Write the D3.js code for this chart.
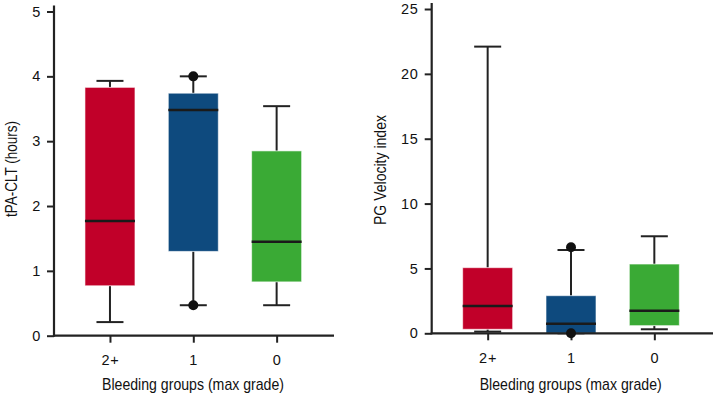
<!DOCTYPE html>
<html>
<head>
<meta charset="utf-8">
<script src="https://cdn.jsdelivr.net/npm/d3@7"></script>
<style>
  body { margin: 0; background: #fff; }
  svg { display: block; }
</style>
</head>
<body>
<div id="chart"></div>
<script>
// groups and colours
const groups = ["2+", "1", "0"];
const groupColors = ["#c10029", "#0e4a7e", "#3aaa35"];

// tPA-CLT (hours) box stats, per group
const cltLow = [0.21, 0.47, 0.47];
const cltQ1 = [0.77, 1.30, 0.83];
const cltMedian = [1.77, 3.48, 1.45];
const cltQ3 = [3.83, 3.74, 2.85];
const cltHigh = [3.93, 4.0, 3.54];
const cltOutliers = [[], [4.0, 0.47], []];
const cltTicks = [0, 1, 2, 3, 4, 5];

// PG Velocity index box stats, per group
const pgvLow = [0.13, 0, 0.31];
const pgvQ1 = [0.31, 0, 0.59];
const pgvMedian = [2.1, 0.74, 1.74];
const pgvQ3 = [5.06, 2.9, 5.34];
const pgvHigh = [22.1, 6.42, 7.48];
const pgvOutliers = [[], [6.63, 0], []];
const pgvTicks = [0, 5, 10, 15, 20, 25];

const tickFont = "'Liberation Sans', Arial, sans-serif";
const titleFont = "'Liberation Sans', Arial, sans-serif";

const svg = d3.select("#chart").append("svg")
  .attr("width", 713)
  .attr("height", 398);

function drawPanel(opt) {
  const g = svg.append("g");

  const y = d3.scaleLinear().domain([0, opt.ticks[opt.ticks.length - 1]]).range([opt.bottom, opt.top]);
  const x = d3.scalePoint().domain(groups).range([opt.left + 14.3, opt.left + 264.3]).padding(0.5);

  const rows = groups.map((grp, i) => ({
    grp, i,
    low: opt.low[i], q1: opt.q1[i], med: opt.median[i], q3: opt.q3[i], high: opt.high[i],
    outliers: opt.outliers[i]
  }));
  const boxW = 50, capW = 27;

  const box = g.selectAll("g.box").data(rows).join("g").attr("class", "box");

  // whiskers + caps
  box.append("line")
    .attr("x1", d => x(d.grp)).attr("x2", d => x(d.grp))
    .attr("y1", d => y(d.high)).attr("y2", d => y(d.q3))
    .attr("stroke", "#222").attr("stroke-width", 2);
  box.append("line")
    .attr("x1", d => x(d.grp)).attr("x2", d => x(d.grp))
    .attr("y1", d => y(d.q1)).attr("y2", d => y(d.low))
    .attr("stroke", "#222").attr("stroke-width", 2);
  box.append("line")
    .attr("x1", d => x(d.grp) - capW / 2).attr("x2", d => x(d.grp) + capW / 2)
    .attr("y1", d => y(d.high)).attr("y2", d => y(d.high))
    .attr("stroke", "#222").attr("stroke-width", 2);
  box.append("line")
    .attr("x1", d => x(d.grp) - capW / 2).attr("x2", d => x(d.grp) + capW / 2)
    .attr("y1", d => y(d.low)).attr("y2", d => y(d.low))
    .attr("stroke", "#222").attr("stroke-width", 2);

  // boxes
  box.append("rect")
    .attr("x", d => x(d.grp) - boxW / 2)
    .attr("width", boxW)
    .attr("y", d => y(d.q3))
    .attr("height", d => y(d.q1) - y(d.q3))
    .attr("fill", d => groupColors[d.i])
    .attr("stroke", "#fff").attr("stroke-opacity", 0.6).attr("stroke-width", 1);

  // medians
  box.append("line")
    .attr("x1", d => x(d.grp) - boxW / 2).attr("x2", d => x(d.grp) + boxW / 2)
    .attr("y1", d => y(d.med)).attr("y2", d => y(d.med))
    .attr("stroke", "#1a1a1a").attr("stroke-width", 2.5);

  // axes
  const yAxis = d3.axisLeft(y).tickValues(opt.ticks).tickFormat(d3.format("d"))
    .tickSize(7).tickPadding(6).tickSizeOuter(0);
  const ya = g.append("g").attr("transform", `translate(${opt.left},0)`).call(yAxis);
  ya.select(".domain").remove();
  ya.selectAll(".tick line").attr("stroke", "#222").attr("stroke-width", 2);

  const xAxis = d3.axisBottom(x).tickSize(7).tickPadding(12).tickSizeOuter(0);
  const xa = g.append("g").attr("transform", `translate(0,${opt.bottom})`).call(xAxis);
  xa.select(".domain").remove();
  xa.selectAll(".tick line").attr("stroke", "#222").attr("stroke-width", 2);

  g.selectAll(".tick text")
    .style("font-family", tickFont)
    .style("font-size", "14.5px")
    .style("letter-spacing", "0.8px")
    .attr("fill", "#111");

  g.append("line")
    .attr("x1", opt.left).attr("x2", opt.left)
    .attr("y1", opt.top - 6).attr("y2", opt.bottom + 1)
    .attr("stroke", "#222").attr("stroke-width", 2.2);
  g.append("line")
    .attr("x1", opt.left - 1).attr("x2", opt.right)
    .attr("y1", opt.bottom).attr("y2", opt.bottom)
    .attr("stroke", "#222").attr("stroke-width", 2.2);

  // outlier dots
  rows.forEach(d => {
    g.selectAll(null).data(d.outliers).join("circle")
      .attr("cx", x(d.grp)).attr("cy", v => y(v))
      .attr("r", 5).attr("fill", "#111");
  });

  // titles (condensed look)
  g.append("text")
    .attr("x", opt.left + 139).attr("y", 390)
    .attr("text-anchor", "middle")
    .attr("textLength", 182).attr("lengthAdjust", "spacingAndGlyphs")
    .style("font-family", titleFont).style("font-size", "17px")
    .attr("fill", "#111")
    .text("Bleeding groups (max grade)");
  g.append("text")
    .attr("transform", `translate(${opt.labelX},${opt.labelY}) rotate(-90)`)
    .attr("text-anchor", "middle")
    .attr("textLength", opt.labelLen).attr("lengthAdjust", "spacingAndGlyphs")
    .style("font-family", titleFont).style("font-size", "17px")
    .attr("fill", "#111")
    .text(opt.label);
}

drawPanel({
  left: 54, right: 334, top: 11.5, bottom: 335.7,
  ticks: cltTicks, low: cltLow, q1: cltQ1, median: cltMedian, q3: cltQ3, high: cltHigh,
  outliers: cltOutliers, label: "tPA-CLT (hours)", labelX: 17, labelY: 169, labelLen: 96
});
drawPanel({
  left: 431.7, right: 713, top: 9, bottom: 333.3,
  ticks: pgvTicks, low: pgvLow, q1: pgvQ1, median: pgvMedian, q3: pgvQ3, high: pgvHigh,
  outliers: pgvOutliers, label: "PG Velocity index", labelX: 385.5, labelY: 170, labelLen: 110
});
</script>
</body>
</html>
